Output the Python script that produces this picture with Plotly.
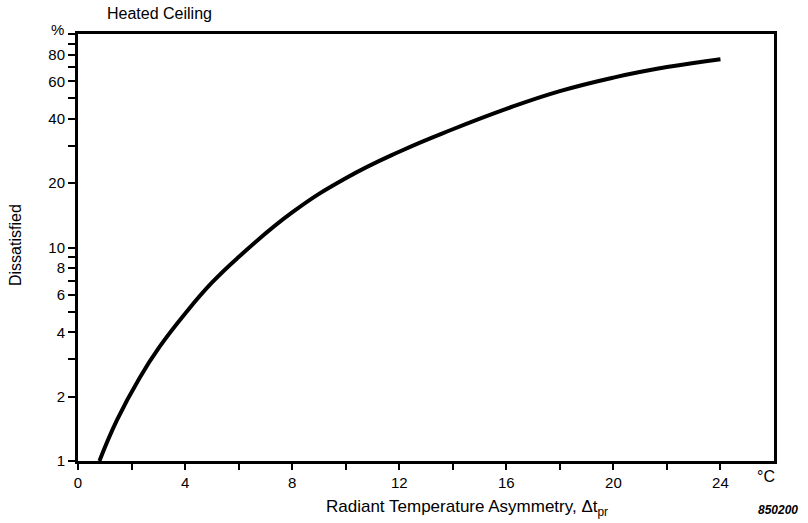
import plotly.graph_objects as go

# Data
asymmetry = [0.8, 1.45, 2.3, 3.05, 4.0, 5.0, 6.0, 8.0, 10.0, 12.0, 14.0, 16.0, 18.0, 20.0, 22.0, 24.0]
dissatisfied = [1.0, 1.55, 2.45, 3.43, 4.9, 6.84, 9.02, 14.6, 21.1, 28.1, 35.8, 44.6, 54.0, 62.5, 70.0, 76.2]

x_major = [0, 4, 8, 12, 16, 20, 24]
x_minor = [2, 6, 10, 14, 18, 22]
y_major = [1, 2, 4, 6, 8, 10, 20, 40, 60, 80]
y_minor = [3, 5, 7, 9, 30, 50, 70, 90, 100]

FONT = "Liberation Sans, Arial, sans-serif"

fig = go.Figure()
fig.add_trace(go.Scatter(
    x=asymmetry, y=dissatisfied, mode="lines",
    line=dict(color="black", width=4, shape="spline", smoothing=1.3),
    showlegend=False, hoverinfo="skip",
))

fig.update_layout(
    width=808, height=523,
    margin=dict(l=78, r=34, t=34, b=62),
    paper_bgcolor="white", plot_bgcolor="white",
    font=dict(family=FONT, size=14, color="black"),
    xaxis=dict(
        range=[0, 26], tickmode="array", tickvals=x_major,
        ticks="outside", ticklen=6, tickwidth=2, tickcolor="black",
        minor=dict(tickmode="array", tickvals=x_minor, ticks="outside",
                   ticklen=6, tickwidth=2, tickcolor="black", showgrid=False),
        showline=True, linecolor="black", linewidth=3, mirror=True,
        showgrid=False, zeroline=False,
        tickfont=dict(family=FONT, size=15, color="black"),
    ),
    yaxis=dict(
        type="log", range=[0, 2], tickmode="array", tickvals=y_major,
        ticktext=[str(v) for v in y_major],
        ticks="outside", ticklen=7, tickwidth=2, tickcolor="black",
        minor=dict(tickmode="array", tickvals=y_minor, ticks="outside",
                   ticklen=7, tickwidth=2, tickcolor="black", showgrid=False),
        showline=True, linecolor="black", linewidth=3, mirror=True,
        showgrid=False, zeroline=False,
        tickfont=dict(family=FONT, size=15, color="black"),
    ),
)

annotations = [
    dict(text="Heated Ceiling", x=0.039, y=1.049, xanchor="left", yanchor="middle",
         font=dict(size=16)),
    dict(text="%", x=-0.030, y=1.010, xanchor="center", yanchor="middle",
         font=dict(size=15)),
    dict(text="Dissatisfied", x=-0.089, y=0.506, xanchor="center", yanchor="middle",
         textangle=-90, font=dict(size=16)),
    dict(text="Radiant Temperature Asymmetry, \u0394t<sub>pr</sub>", x=0.559, y=-0.110,
         xanchor="center", yanchor="middle", font=dict(size=17)),
    dict(text="\u00b0C", x=0.988, y=-0.037, xanchor="center", yanchor="middle",
         font=dict(size=16)),
    dict(text="<b><i>850200</i></b>", x=1.037, y=-0.115, xanchor="right", yanchor="middle",
         font=dict(size=12)),
]
for a in annotations:
    a.update(xref="paper", yref="paper", showarrow=False)
    fig.add_annotation(**a)

fig.write_html("out.html")
